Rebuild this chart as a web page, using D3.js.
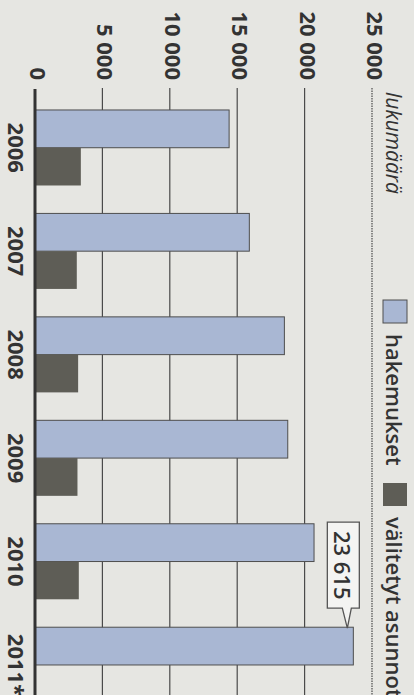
<!DOCTYPE html>
<html>
<head>
<meta charset="utf-8">
<script src="https://cdn.jsdelivr.net/npm/d3@7"></script>
<style>
  body { margin: 0; background: #e6e6e2; }
  svg { display: block; }
  text { font-family: "Open Sans", sans-serif; fill: #333; }
</style>
</head>
<body>
<div id="chart"></div>
<script>
// data
var years = ["2006", "2007", "2008", "2009", "2010", "2011*"];
var hakemukset = [14400, 15900, 18500, 18750, 20700, 23615];
var valitetyt = [3400, 3100, 3200, 3150, 3250, null];
var tickValues = [0, 5000, 10000, 15000, 20000, 25000];
var seriesNames = ["hakemukset", "välitetyt asunnot"];
var calloutValue = 23615;

var W = 414, H = 695;
var fmt = function(d) { return d3.format(",")(d).replace(/,/g, " "); };

var svg = d3.select("#chart").append("svg")
  .attr("width", W)
  .attr("height", H);

svg.append("rect").attr("width", W).attr("height", H).attr("fill", "#e6e6e2");

// chart is drawn upright and turned a quarter clockwise
var g = svg.append("g").attr("transform", "translate(" + W + ",0) rotate(90)");

var y = d3.scaleLinear().domain([0, 25000]).range([379, 42]);
var x = d3.scaleBand().domain(years).range([96, 716.7])
  .paddingInner(0.27).paddingOuter(0.135);
var x1 = d3.scaleBand().domain(["h", "v"]).range([0, x.bandwidth()]);

// gridlines
g.selectAll(".grid")
  .data(tickValues.filter(function(d) { return d > 0; }))
  .enter().append("line")
  .attr("x1", 88).attr("x2", H)
  .attr("y1", function(d) { return y(d); })
  .attr("y2", function(d) { return y(d); })
  .attr("stroke", "#4a4a4a")
  .attr("stroke-width", 1.2)
  .attr("stroke-dasharray", function(d) { return d == 25000 ? "1.5,1" : null; });

// tick labels
g.selectAll(".tick")
  .data(tickValues)
  .enter().append("text")
  .attr("x", 80)
  .attr("y", function(d) { return y(d) + 5; })
  .attr("text-anchor", "end")
  .style("font-size", "22px")
  .style("font-weight", 700)
  .text(fmt);

// bars
var groups = g.selectAll(".year")
  .data(years)
  .enter().append("g")
  .attr("transform", function(d) { return "translate(" + x(d) + ",0)"; });

groups.append("rect")
  .attr("x", x1("h"))
  .attr("y", function(d, i) { return y(hakemukset[i]); })
  .attr("width", x1.bandwidth())
  .attr("height", function(d, i) { return y(0) - y(hakemukset[i]); })
  .attr("fill", "#a9b7d3")
  .attr("stroke", "#4e4e4e")
  .attr("stroke-width", 1);

groups.filter(function(d, i) { return valitetyt[i] != null; })
  .append("rect")
  .attr("x", x1("v"))
  .attr("y", function(d) { return y(valitetyt[years.indexOf(d)]); })
  .attr("width", x1.bandwidth())
  .attr("height", function(d) { return y(0) - y(valitetyt[years.indexOf(d)]); })
  .attr("fill", "#5e5d56");

// year labels
groups.append("text")
  .attr("x", x.bandwidth() / 2)
  .attr("y", 406)
  .attr("text-anchor", "middle")
  .style("font-size", "22px")
  .style("font-weight", 700)
  .text(function(d) { return d; });

// zero axis
g.append("line")
  .attr("x1", 89).attr("x2", H)
  .attr("y1", y(0)).attr("y2", y(0))
  .attr("stroke", "#333")
  .attr("stroke-width", 3);

// unit label
g.append("text")
  .attr("x", 92).attr("y", 28)
  .style("font-size", "21px")
  .style("font-style", "italic")
  .text("lukumäärä");

// legend
var legend = [
  { name: seriesNames[0], fill: "#a9b7d3", stroke: "#4e4e4e", x: 300 },
  { name: seriesNames[1], fill: "#5e5d56", stroke: "none", x: 483 }
];
var lg = g.selectAll(".legend").data(legend).enter().append("g");
lg.append("rect")
  .attr("x", function(d) { return d.x; })
  .attr("y", 7)
  .attr("width", 23).attr("height", 24)
  .attr("fill", function(d) { return d.fill; })
  .attr("stroke", function(d) { return d.stroke; });
lg.append("text")
  .attr("x", function(d) { return d.x + 34; })
  .attr("y", 28)
  .style("font-size", "22px")
  .style("font-weight", 600)
  .text(function(d) { return d.name; });

// callout on the last bar
var tipX = x(years[years.length - 1]) + 1;
var tipY = y(calloutValue) + 6;
var bx0 = tipX - 106, bx1 = tipX - 20, by0 = tipY - 12, by1 = tipY + 20;
g.append("path")
  .attr("d", "M" + bx0 + "," + by0 + "H" + bx1 + "V" + (tipY - 4) +
    "L" + tipX + "," + tipY + "L" + bx1 + "," + (tipY + 5) +
    "V" + by1 + "H" + bx0 + "Z")
  .attr("fill", "#f4f4f2")
  .attr("stroke", "#555")
  .attr("stroke-width", 1.3);
g.append("text")
  .attr("x", (bx0 + bx1) / 2)
  .attr("y", by1 - 7)
  .attr("text-anchor", "middle")
  .style("font-size", "22px")
  .style("font-weight", 600)
  .text(fmt(calloutValue));
</script>
</body>
</html>
